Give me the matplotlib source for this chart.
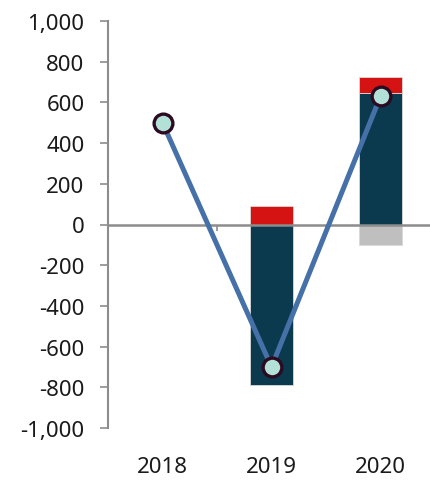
import matplotlib
matplotlib.use("Agg")
import matplotlib.pyplot as plt
from matplotlib.ticker import FuncFormatter

plt.rcParams['font.family'] = ['Noto Sans', 'DejaVu Sans']

years = ["2018", "2019", "2020"]
dark_values = [0, -790, 645]
red_values = [0, 90, 80]
gray_values = [0, 0, -100]
line_values = [500, -700, 630]

x = list(range(len(years)))

fig = plt.figure(figsize=(4.30, 4.81), dpi=100)
ax = fig.add_axes([108 / 430, 1 - 429 / 481, 322 / 430, 407 / 481])

bar_w = 0.4
edge = dict(edgecolor="#d9d9d9", linewidth=0.6)
ax.bar(x, dark_values, width=bar_w, color="#0b3a4e", zorder=2, **edge)
# red sits on top of the positive part of the dark bar
red_bottom = [max(v, 0) for v in dark_values]
ax.bar(x, red_values, bottom=red_bottom, width=bar_w, color="#d61313", zorder=2, **edge)
# gray hangs below zero
ax.bar(x, gray_values, width=bar_w, color="#bfbfbf", zorder=2, **edge)

# zero axis line with category separator ticks
ax.axhline(0, color="#8c8c8c", linewidth=1.8, zorder=3)
ax.vlines([0.5, 1.5], -30, 0, color="#8c8c8c", linewidth=1.2, zorder=3)

ax.plot(x, line_values, color="#4571a8", linewidth=3.6, zorder=4,
        marker="o", markersize=13.5, markerfacecolor="#b3e1d8",
        markeredgecolor="#2b0a22", markeredgewidth=2.4)

ax.set_ylim(-1000, 1000)
ax.set_xlim(-0.5, 2.454)
ax.set_yticks(range(-1000, 1001, 200))
ax.yaxis.set_major_formatter(FuncFormatter(lambda v, p: f"{int(v):,}"))
ax.set_xticks(x)
ax.set_xticklabels(years)

for s in ["top", "right", "bottom"]:
    ax.spines[s].set_visible(False)
ax.spines["left"].set_color("#8c8c8c")
ax.spines["left"].set_linewidth(1.5)

ax.tick_params(axis="y", direction="out", length=6, width=1.2, color="#8c8c8c",
               labelsize=16, pad=11, labelcolor="#1a1a1a")
ax.tick_params(axis="x", length=0, labelsize=16, pad=20, labelcolor="#1a1a1a")

fig.savefig("out.png", dpi=100)
